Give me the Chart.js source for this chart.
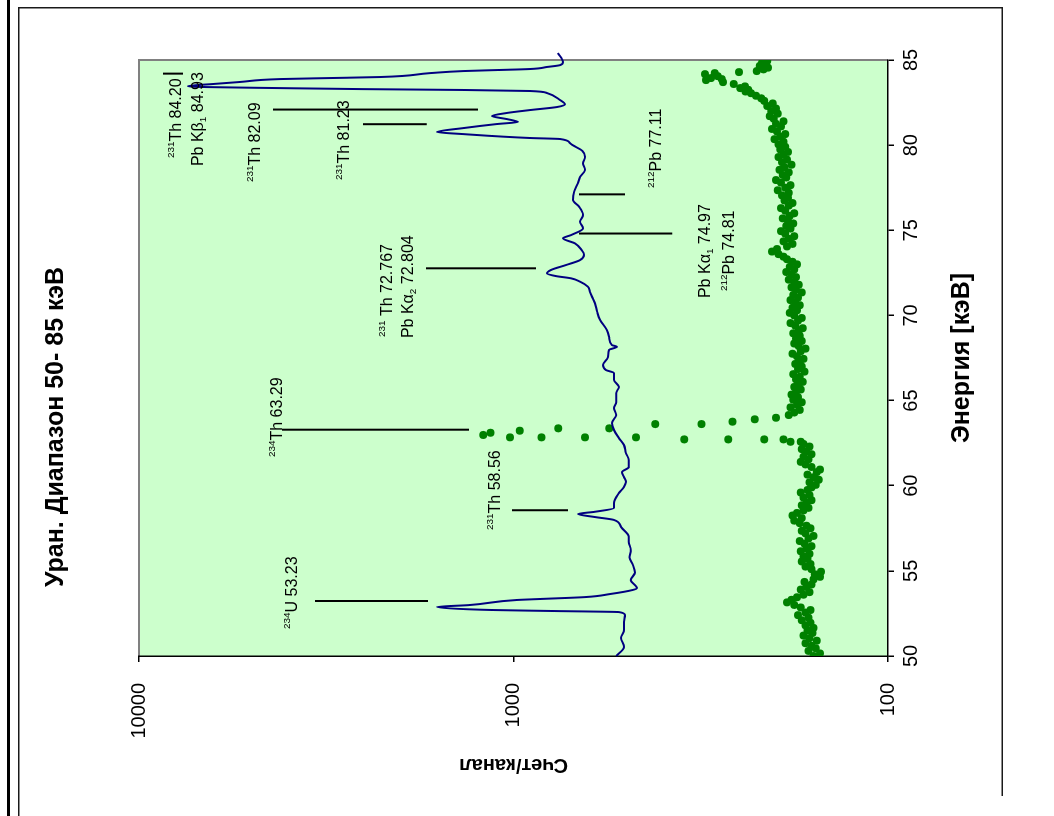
<!DOCTYPE html>
<html>
<head>
<meta charset="utf-8">
<script src="https://cdn.jsdelivr.net/npm/chart.js@4.4.0/dist/chart.umd.min.js"></script>
<style>
  html, body { margin: 0; padding: 0; background: #fff; width: 1054px; height: 816px; overflow: hidden; }
  #edge { position: absolute; left: 7px; top: 0; width: 3px; height: 816px; background: #000; }
  /* the page is laid out in landscape and turned a quarter turn */
  #sheet { position: absolute; left: 0; top: 0; width: 840px; height: 985px;
           transform-origin: 0 0; transform: translate(18px, 847px) rotate(-90deg); }
  #sheet canvas { display: block; }
</style>
</head>
<body>
<div id="edge"></div>
<div id="sheet"><canvas id="spectrum" width="840" height="985"></canvas></div>
<script>
// Scintillation spectrum (line): energy, keV / counts per channel
const blueEnergy = [50.00, 50.53, 51.06, 51.53, 52.00, 52.41, 52.58, 52.64, 52.70, 52.88, 52.99, 53.29, 53.35, 53.46, 53.64, 53.88, 53.99,
  54.46, 54.90, 55.35, 55.80, 56.22, 56.70, 57.00, 57.57, 57.99, 58.16, 58.34, 58.47, 58.69, 58.98, 59.57, 59.92, 60.22, 60.51,
  60.80, 61.10, 61.51, 61.92, 62.39, 62.80, 63.27, 63.68, 64.15, 64.56, 64.91, 65.44, 65.80, 66.21, 66.62, 66.79, 67.09, 67.56,
  67.97, 68.16, 68.26, 68.75, 69.14, 69.73, 70.22, 70.71, 71.10, 71.39, 71.69, 71.98, 72.18, 72.31, 72.47, 72.67, 72.96, 73.25,
  73.55, 73.84, 74.23, 74.53, 74.72, 75.11, 75.50, 75.90, 76.38, 76.78, 77.26, 77.76, 78.14, 78.54, 78.93, 79.32, 79.65, 80.12,
  80.36, 80.42, 80.65, 80.77, 81.00, 81.24, 81.36, 81.53, 81.71, 81.89, 82.06, 82.24, 82.41, 82.65, 83.06, 83.18, 83.24, 83.29,
  83.35, 83.41, 83.47, 83.59, 83.71, 83.88, 83.94, 84.00, 84.23, 84.35, 84.41, 84.47, 84.59, 84.70, 84.88, 85.41];
const blueCounts = [532, 507, 516, 507, 507, 504, 523, 771, 1135, 1600, 1315, 979, 845, 644, 552, 480, 468,
  486, 474, 480, 490, 486, 492, 492, 516, 539, 606, 673, 606, 539, 539, 523, 507, 501, 507,
  513, 492, 492, 501, 507, 523, 539, 546, 532, 539, 532, 532, 523, 539, 539, 566, 577, 559,
  556, 529, 546, 556, 563, 587, 598, 606, 617, 625, 633, 664, 702, 770, 814, 794, 724, 664,
  648, 658, 685, 738, 702, 652, 664, 652, 668, 694, 689, 673, 664, 644, 652, 644, 654, 707,
  751, 904, 1364, 1601, 1364, 1107, 973, 1041, 1141, 1041, 904, 765, 729, 751, 814, 904, 1364, 2523,
  4203, 6583, 7400, 6343, 5375, 4203, 3090, 2273, 1671, 1364, 1107, 904, 814, 751, 738, 761];

// Semiconductor spectrum (points): energy, keV / counts per channel
const greenEnergy = [
  50.00, 50.15, 50.30, 50.45, 50.60, 50.75, 50.90, 51.05, 51.20, 51.35, 51.50, 51.65, 51.80, 51.95,
  52.10, 52.25, 52.40, 52.55, 52.70, 52.85, 53.00, 53.15, 53.30, 53.45, 53.60, 53.75, 53.90, 54.05,
  54.20, 54.35, 54.50, 54.65, 54.80, 54.95, 55.10, 55.25, 55.40, 55.55, 55.70, 55.85, 56.00, 56.15,
  56.30, 56.45, 56.60, 56.75, 56.90, 57.05, 57.20, 57.35, 57.50, 57.65, 57.80, 57.95, 58.10, 58.25,
  58.40, 58.55, 58.70, 58.85, 59.00, 59.15, 59.30, 59.45, 59.60, 59.75, 59.90, 60.05, 60.20, 60.35,
  60.50, 60.65, 60.80, 60.95, 61.10, 61.25, 61.40, 61.55, 61.70, 61.85, 62.00, 62.15, 62.30, 62.45,
  62.58, 62.58, 62.72, 62.72, 62.72, 62.72, 62.84, 62.84, 62.84, 62.84, 62.98, 63.11,
  63.23, 63.37, 63.37, 63.62, 63.62, 63.76, 63.90, 63.99, 64.15,
  64.30, 64.45, 64.60, 64.75, 64.90, 65.05, 65.20, 65.35, 65.50, 65.65, 65.80, 65.95,
  66.10, 66.25, 66.40, 66.55, 66.70, 66.85, 67.00, 67.15, 67.30, 67.45, 67.60, 67.75, 67.90, 68.05,
  68.20, 68.35, 68.50, 68.65, 68.80, 68.95, 69.10, 69.25, 69.40, 69.55, 69.70, 69.85, 70.00, 70.15,
  70.30, 70.45, 70.60, 70.75, 70.90, 71.05, 71.20, 71.35, 71.50, 71.65, 71.80, 71.95, 72.10, 72.25,
  72.40, 72.55, 72.70, 72.85, 73.00, 73.15, 73.30, 73.45, 73.60, 73.75, 73.90, 74.05, 74.20, 74.35,
  74.50, 74.65, 74.80, 74.95, 75.10, 75.25, 75.40, 75.55, 75.70, 75.85, 76.00, 76.15, 76.30, 76.45,
  76.60, 76.75, 76.90, 77.05, 77.20, 77.35, 77.50, 77.65, 77.80, 77.95, 78.10, 78.25, 78.40, 78.55,
  78.70, 78.85, 79.00, 79.15, 79.30, 79.45, 79.60, 79.75, 79.90, 80.05, 80.20, 80.35, 80.50, 80.65,
  80.80, 80.95, 81.10, 81.25, 81.40, 81.55, 81.70, 81.85, 82.00, 82.15, 82.30, 82.45, 82.60, 82.75,
  82.90, 83.05, 83.15, 83.25, 83.35, 83.45, 83.59, 83.70, 83.82, 83.88, 83.94, 84.05, 84.17, 84.23,
  84.29, 84.35, 84.45, 84.55, 84.65, 84.75, 84.85, 84.95];
const greenCounts = [
  158, 152, 163, 156, 160, 166, 155, 162, 168, 159, 164, 158, 166, 161,
  170, 163, 174, 166, 161, 171, 178, 186, 181, 175, 168, 162, 171, 165,
  160, 167, 158, 152, 157, 151, 160, 166, 161, 170, 164, 168, 162, 171,
  165, 160, 167, 172, 163, 158, 166, 170, 161, 165, 172, 178, 170, 180,
  175, 168, 163, 170, 165, 160, 168, 162, 171, 164, 160, 156, 162, 153,
  158, 164, 155, 152, 160, 166, 171, 163, 168, 160, 165, 170, 162, 168,
  171, 182, 190, 214, 267, 350, 471, 644, 842, 1022, 1205, 1152,
  963, 759, 555, 418, 315, 260, 227, 199, 184,
  178, 172, 182, 175, 170, 179, 174, 181, 176, 171, 178, 173,
  169, 176, 172, 179, 167, 174, 170, 177, 172, 168, 175, 180, 171, 166,
  173, 178, 170, 176, 172, 179, 173, 169, 177, 182, 174, 170, 178, 183,
  175, 180, 172, 177, 182, 174, 179, 170, 176, 181, 173, 178, 184, 176,
  181, 187, 178, 183, 175, 180, 186, 190, 196, 204, 198, 186, 180, 190,
  184, 178, 188, 193, 182, 187, 179, 185, 191, 183, 178, 188, 193, 184,
  180, 189, 185, 192, 184, 197, 188, 182, 193, 199, 187, 191, 184, 195,
  189, 181, 192, 186, 196, 190, 185, 194, 188, 196, 190, 201, 194, 188,
  198, 204, 193, 199, 190, 202, 207, 197, 205, 199, 210, 203, 214, 218,
  225, 232, 240, 236, 248, 241, 258, 276, 306, 278, 297, 285, 308, 290,
  250, 224, 215, 209, 220, 212, 217, 210];

// Reference lines of the nuclides: energy and the two count levels each line spans
const lineEnergy = [53.23, 58.56, 63.29, 72.767, 74.81, 77.11, 81.23, 82.09, 84.20];
const lineFrom = [3388, 1010, 4152, 1712, 668, 668, 2523, 4387, 8630];
const lineTo = [1692, 715, 1315, 871, 377, 504, 1705, 1244, 7630];

// Line captions (^…^ superscript, _…_ subscript)
const captions = ['^234^U 53.23', '^231^Th 58.56', '^234^Th 63.29', '^231^ Th 72.767', 'Pb Kα_2_ 72.804',
  'Pb Kα_1_ 74.97', '^212^Pb 74.81', '^212^Pb 77.11', '^231^Th 81.23', '^231^Th 82.09', '^231^Th 84.20', 'Pb Kβ_1_ 84.93'];

const energyTicks = [50, 55, 60, 65, 70, 75, 80, 85];
const countTicks = [100, 1000, 10000];

const chartTitle = 'Уран. Диапазон 50- 85 кэВ';
const energyTitle = 'Энергия [кэВ]';
const countTitle = 'Счет/канал';

// where each caption starts: [energy, counts]
const captionAt = [[51.585, 3928], [57.40, 1127], [61.685, 4307], [68.73, 2190], [68.67, 1925],
  [71.02, 310], [71.43, 267], [77.48, 419], [77.95, 2853], [77.83, 4931], [79.24, 8014], [78.77, 7000]];

const FONT = '"Liberation Sans", Arial, Helvetica, sans-serif';

function drawRich(ctx, spec, x, yMid, size) {
  const parts = spec.split(/(\^[^^]*\^|_[^_]*_)/).filter(s => s.length);
  const base = yMid + size * 0.36;
  let cx = x;
  for (const p of parts) {
    let t = p, fs = size, dy = 0;
    if (p[0] === '^') { t = p.slice(1, -1); fs = size * 0.62; dy = -size * 0.42; }
    else if (p[0] === '_') { t = p.slice(1, -1); fs = size * 0.62; dy = size * 0.2; }
    ctx.font = fs + 'px ' + FONT;
    ctx.textAlign = 'left';
    ctx.textBaseline = 'alphabetic';
    ctx.fillText(t, cx, base + dy);
    cx += ctx.measureText(t).width;
  }
}

const decor = {
  id: 'decor',
  beforeDraw(chart) {
    const { ctx, chartArea: a, width, height } = chart;
    ctx.save();
    ctx.fillStyle = '#ffffff';
    ctx.fillRect(0, 0, width, height);
    // page frame: three sides, the fourth runs off the sheet
    ctx.strokeStyle = '#1a1a1a';
    ctx.lineWidth = 1.5;
    ctx.beginPath();
    ctx.moveTo(0, 0.75); ctx.lineTo(width - 0.75, 0.75);
    ctx.lineTo(width - 0.75, height - 0.75); ctx.lineTo(51, height - 0.75);
    ctx.stroke();
    ctx.fillStyle = '#ccffcc';
    ctx.fillRect(a.left, a.top, a.right - a.left, a.bottom - a.top);
    ctx.strokeStyle = '#808080';
    ctx.lineWidth = 2;
    ctx.beginPath();
    ctx.moveTo(a.left, a.top); ctx.lineTo(a.right, a.top); ctx.lineTo(a.right, a.bottom);
    ctx.stroke();
    ctx.restore();
  },
  afterDraw(chart) {
    const { ctx, scales } = chart;
    ctx.save();
    ctx.fillStyle = '#000';
    captions.forEach((c, i) => {
      const x = scales.x.getPixelForValue(captionAt[i][0]);
      const y = scales.y.getPixelForValue(captionAt[i][1]);
      drawRich(ctx, c, x, y, 16);
    });
    ctx.font = 'bold 25px ' + FONT;
    ctx.textAlign = 'center';
    ctx.textBaseline = 'middle';
    ctx.fillText(chartTitle, chart.width / 2, 38);
    ctx.restore();
  }
};

const lineSets = lineEnergy.map((e, i) => ({
  type: 'line',
  data: [{ x: e, y: lineFrom[i] }, { x: e, y: lineTo[i] }],
  borderColor: '#000',
  borderWidth: 2,
  pointRadius: 0,
  order: 0
}));

new Chart(document.getElementById('spectrum'), {
  type: 'scatter',
  data: {
    datasets: [
      ...lineSets,
      {
        type: 'line',
        data: blueEnergy.map((e, i) => ({ x: e, y: blueCounts[i] })),
        borderColor: '#000080',
        borderWidth: 2,
        pointRadius: 0,
        cubicInterpolationMode: 'monotone',
        clip: false,
        order: 1
      },
      {
        type: 'scatter',
        data: greenEnergy.map((e, i) => ({ x: e, y: greenCounts[i] })),
        backgroundColor: '#008000',
        borderWidth: 0,
        pointRadius: 4,
        order: 2
      }
    ]
  },
  options: {
    responsive: false,
    animation: false,
    events: [],
    layout: { padding: { left: 0, right: 53, top: 121, bottom: 0 } },
    plugins: { legend: { display: false }, tooltip: { enabled: false }, title: { display: false } },
    scales: {
      x: {
        type: 'linear', position: 'bottom', min: 50, max: 85,
        afterBuildTicks: s => { s.ticks = energyTicks.map(v => ({ value: v })); },
        afterFit: s => { s.height = 115; },
        ticks: { color: '#000', font: { family: FONT, size: 20 }, padding: 5, autoSkip: false, maxRotation: 0,
                 callback: v => String(v) },
        grid: { drawOnChartArea: false, drawTicks: true, tickLength: 6, color: '#000', lineWidth: 1.5 },
        border: { color: '#000', width: 1.5 },
        title: { display: true, text: energyTitle, color: '#000', font: { family: FONT, size: 25, weight: 'bold' },
                 padding: { top: 0, bottom: 26 } }
      },
      y: {
        type: 'logarithmic', position: 'left', min: 100, max: 10000,
        afterBuildTicks: s => { s.ticks = countTicks.map(v => ({ value: v })); },
        afterFit: s => { s.width = 191; },
        ticks: { color: '#000', font: { family: FONT, size: 20 }, padding: 21, autoSkip: false,
                 callback: v => String(v) },
        grid: { drawOnChartArea: false, drawTicks: true, tickLength: 6, color: '#000', lineWidth: 1.5 },
        border: { color: '#000', width: 1.5 },
        title: { display: true, text: countTitle, color: '#000', font: { family: FONT, size: 20, weight: 'bold' },
                 padding: { top: 70, bottom: 0 } }
      }
    }
  },
  plugins: [decor]
});
</script>
</body>
</html>
